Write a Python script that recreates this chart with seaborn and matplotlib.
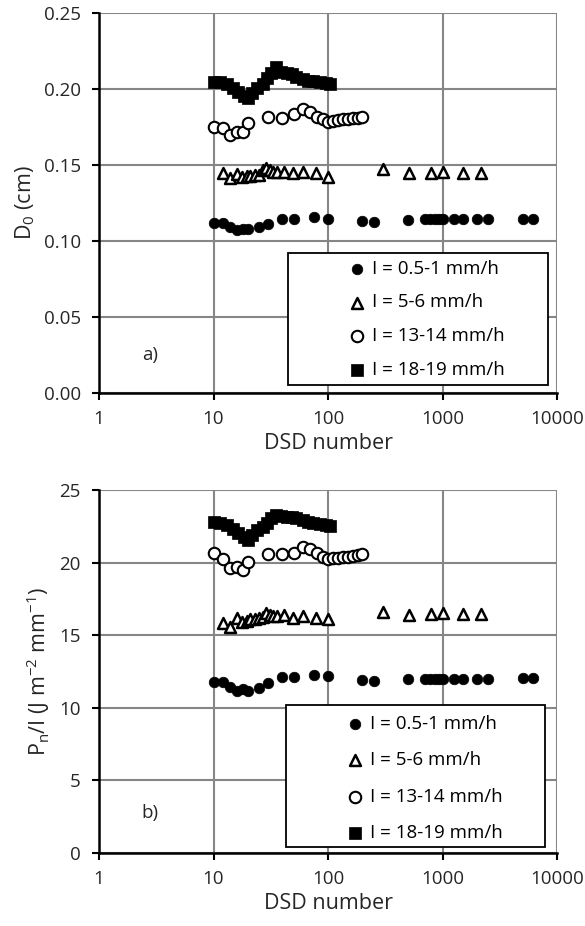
import numpy as np
import pandas as pd
import seaborn as sns
import matplotlib
matplotlib.use("Agg")
import matplotlib.pyplot as plt
from matplotlib.patches import Rectangle
from matplotlib.ticker import FixedLocator, FixedFormatter, NullLocator

# ---------------- data ----------------
labels = ["I = 0.5-1 mm/h", "I = 5-6 mm/h", "I = 13-14 mm/h", "I = 18-19 mm/h"]

x_i1 = [10, 12, 14, 16, 18, 20, 25, 30, 40, 50, 75, 100, 200, 250, 500, 700, 780,
        860, 940, 1000, 1250, 1500, 2000, 2500, 5000, 6200]
d0_i1 = [0.1120, 0.1116, 0.1094, 0.1075, 0.1081, 0.1077, 0.1090, 0.1112, 0.1147,
         0.1143, 0.1156, 0.1145, 0.1134, 0.1127, 0.1138, 0.1143, 0.1143, 0.1143,
         0.1143, 0.1143, 0.1143, 0.1143, 0.1143, 0.1143, 0.1143, 0.1143]
pn_i1 = [11.79, 11.79, 11.45, 11.17, 11.27, 11.17, 11.34, 11.72, 12.10, 12.14,
         12.28, 12.19, 11.91, 11.84, 11.98, 11.98, 11.98, 11.98, 11.98, 11.98,
         11.98, 11.98, 11.98, 11.98, 12.03, 12.03]

x_i5 = [12, 14, 16, 17.6, 19.5, 21, 23, 25, 27, 29, 31, 33, 36, 41, 49, 61, 79, 100,
        300, 505, 790, 1000, 1500, 2150]
d0_i5 = [0.1445, 0.1412, 0.1441, 0.1423, 0.1428, 0.1428, 0.1432, 0.1436, 0.1467,
         0.1478, 0.1467, 0.1456, 0.1456, 0.1456, 0.1445, 0.1456, 0.1445, 0.1423,
         0.1472, 0.1445, 0.1445, 0.1456, 0.1445, 0.1445]
pn_i5 = [15.82, 15.54, 16.16, 15.93, 16.00, 16.09, 16.14, 16.19, 16.28, 16.55,
         16.39, 16.32, 16.32, 16.39, 16.16, 16.32, 16.16, 16.09, 16.62, 16.39,
         16.46, 16.55, 16.46, 16.46]

x_i13 = [10, 12, 14, 16, 18, 20, 30, 40, 50, 60, 70, 80, 90, 100, 110, 123, 136,
         150, 166, 183, 200]
d0_i13 = [0.1752, 0.1741, 0.1697, 0.1719, 0.1719, 0.1774, 0.1818, 0.1807, 0.1836,
          0.1866, 0.1851, 0.1818, 0.1801, 0.1785, 0.1791, 0.1796, 0.1803, 0.1803,
          0.1806, 0.1807, 0.1818]
pn_i13 = [20.65, 20.23, 19.61, 19.72, 19.50, 20.07, 20.60, 20.60, 20.69, 21.06,
          20.92, 20.65, 20.41, 20.23, 20.30, 20.30, 20.37, 20.41, 20.46, 20.53, 20.60]

x_i18 = [10, 11.4, 13, 14.7, 16.5, 18.5, 20, 21.5, 24.2, 27, 29.6, 31.6, 35, 39, 44,
         48, 53, 60, 67, 74, 85, 97, 105]
d0_i18 = [0.2048, 0.2048, 0.2033, 0.2005, 0.1982, 0.1954, 0.1939, 0.1972, 0.2005,
          0.2033, 0.2070, 0.2103, 0.2147, 0.2114, 0.2103, 0.2099, 0.2081, 0.2064,
          0.2055, 0.2055, 0.2048, 0.2041, 0.2033]
pn_i18 = [22.83, 22.76, 22.60, 22.30, 22.03, 21.75, 21.57, 21.91, 22.26, 22.48,
          22.72, 23.06, 23.29, 23.22, 23.17, 23.13, 23.06, 22.94, 22.83, 22.76,
          22.67, 22.60, 22.53]

x_ticks = [1, 10, 100, 1000, 10000]
x_ticklabels = ["1", "10", "100", "1000", "10000"]
d0_ticks = [0.00, 0.05, 0.10, 0.15, 0.20, 0.25]
d0_ticklabels = ["0.00", "0.05", "0.10", "0.15", "0.20", "0.25"]
pn_ticks = [0, 5, 10, 15, 20, 25]
pn_ticklabels = ["0", "5", "10", "15", "20", "25"]

# ---------------- style ----------------
sns.set_theme(style="white")
plt.rcParams["font.family"] = ["Open Sans", "DejaVu Sans"]
plt.rcParams["mathtext.fontset"] = "custom"
plt.rcParams["mathtext.rm"] = "Open Sans"
plt.rcParams["mathtext.it"] = "Open Sans"

fig = plt.figure(figsize=(5.85, 9.26), dpi=100)
W, H = 585, 926
# axes rectangles in pixels: left, right, top, bottom
P1 = (99, 557, 13, 393)
P2 = (99, 557, 490, 853)


def add_ax(p):
    l, r, t, b = p
    return fig.add_axes([l / W, 1 - b / H, (r - l) / W, (b - t) / H])


def px2ax(p, x, y):
    l, r, t, b = p
    return (x - l) / (r - l), (b - y) / (b - t)


ax1 = add_ax(P1)
ax2 = add_ax(P2)

styles = [
    dict(marker="o", s=58, color="black", edgecolor="black", linewidth=0.5),
    dict(marker="^", s=62, facecolor="white", edgecolor="black", linewidth=1.8),
    dict(marker="o", s=68, facecolor="white", edgecolor="black", linewidth=1.5),
    dict(marker="s", s=78, color="black", edgecolor="black", linewidth=0.5),
]

FS_TICK = 13.5
FS_LAB = 15.5
FS_LEG = 13.5


def draw(ax, p, ys, ticks, ticklabels, ylabel, tag, tag_y, box_px, leg_px, leg_space):
    xs = [x_i1, x_i5, x_i13, x_i18]
    for x, y, lab, st in zip(xs, ys, labels, styles):
        sns.scatterplot(x=x, y=y, ax=ax, label=lab, zorder=3, **st)
    ax.set_xscale("log")
    ax.set_xlim(1, 10000)
    ax.set_ylim(ticks[0], ticks[-1])
    ax.xaxis.set_major_locator(FixedLocator(x_ticks))
    ax.xaxis.set_major_formatter(FixedFormatter(x_ticklabels))
    ax.xaxis.set_minor_locator(NullLocator())
    ax.set_yticks(ticks)
    ax.set_yticklabels(ticklabels)
    ax.grid(True, color="#868686", linewidth=1.5)
    ax.set_axisbelow(True)
    for sp in ["top", "right"]:
        ax.spines[sp].set_visible(False)
    for sp in ["left", "bottom"]:
        ax.spines[sp].set_color("black")
        ax.spines[sp].set_linewidth(1.8)
        ax.spines[sp].set_zorder(4)
    ax.tick_params(axis="both", which="major", direction="out", length=5,
                   width=1.5, color="black", labelsize=FS_TICK,
                   bottom=True, left=True)
    ax.tick_params(axis="y", pad=8)
    ax.tick_params(axis="x", pad=7)
    ax.set_xlabel("DSD number", fontsize=FS_LAB, labelpad=4)
    ax.set_ylabel(ylabel, fontsize=FS_LAB, labelpad=5)
    ax.text(2.8, tag_y, tag, fontsize=FS_TICK, ha="center", va="center")
    # legend frame
    x0, y0 = px2ax(p, box_px[0], box_px[3])
    x1, y1 = px2ax(p, box_px[1], box_px[2])
    ax.add_patch(Rectangle((x0, y0), x1 - x0, y1 - y0, transform=ax.transAxes,
                           facecolor="white", edgecolor="black", linewidth=1.3,
                           zorder=4.5, clip_on=False))
    leg = ax.legend(loc="upper left", bbox_to_anchor=px2ax(p, *leg_px),
                    frameon=False, fontsize=FS_LEG,
                    handletextpad=0.3, labelspacing=leg_space, borderpad=0.0,
                    borderaxespad=0.0, handlelength=1.0)
    leg.set_zorder(5)
    for t in leg.get_texts():
        t.set_color("black")


draw(ax1, P1, [d0_i1, d0_i5, d0_i13, d0_i18], d0_ticks, d0_ticklabels,
     r"D$_0$ (cm)", "a)", 0.025,
     (288, 548, 253, 385), (347.6, 259.5), 0.85)
draw(ax2, P2, [pn_i1, pn_i5, pn_i13, pn_i18], pn_ticks, pn_ticklabels,
     r"P$_n$/I (J m$^{-2}$ mm$^{-1}$)", "b)", 2.76,
     (286, 545, 705, 847), (345.6, 715), 0.98)

fig.savefig("out.png", dpi=100, facecolor="white")
